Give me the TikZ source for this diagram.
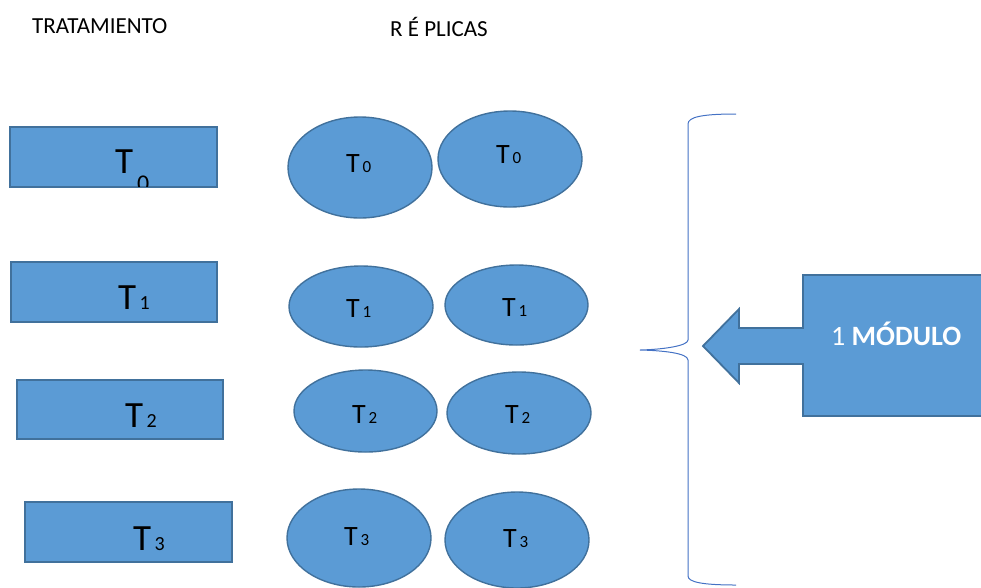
\documentclass[tikz,border=0pt]{standalone}
\usepackage{fontspec}
\setmainfont{Carlito}
\usetikzlibrary{shapes.geometric}

\definecolor{boxfill}{HTML}{5B9BD5}
\definecolor{boxline}{HTML}{41719C}
\definecolor{braceline}{HTML}{4472C4}

% big "T" followed by a smaller index digit
\newcommand{\tindex}[3]{{\fontsize{#1}{#1}\selectfont T}{\fontsize{#2}{#2}\selectfont\,#3}}

\tikzset{
  treatbox/.style={draw=boxline, fill=boxfill, line width=1.8pt, rectangle,
    inner sep=0pt, minimum width=#1},
  treatbox/.default=206pt,
  replica/.style={draw=boxline, fill=boxfill, line width=1.4pt, ellipse, inner sep=0pt},
  biglabel/.style={anchor=base west, inner sep=0pt, text=black},
  header/.style={anchor=base west, inner sep=0pt, font=\fontsize{23}{23}\selectfont},
}

\begin{document}
\begin{tikzpicture}[x=1pt, y=-1pt]
\useasboundingbox (0,0) rectangle (981,587);

% column headers
\node[header] (hTrat) at (32,33) {TRATAMIENTO};
\node[header] (hRep) at (390,36) {R É PLICAS};

% treatment boxes
\node[treatbox=207pt, minimum height=60pt] (R0) at (113.5,157) {};
\node[treatbox, minimum height=60pt] (R1) at (114,292) {};
\node[treatbox, minimum height=59pt] (R2) at (120,409.5) {};
\node[treatbox=207pt, minimum height=60pt] (R3) at (128.5,532) {};

% first box: index digit sits low and is cut off by the box edge
\begin{scope}
  \clip ([shift={(1.2pt,1.2pt)}]R0.south west) rectangle ([shift={(-1.2pt,-1.2pt)}]R0.north east);
  \node[biglabel] (lR0) at (115,173)
    {{\fontsize{37}{37}\selectfont T}{\fontsize{24}{24}\selectfont\,\raisebox{-18pt}{0}}};
\end{scope}
\node[biglabel] (lR1) at (118,309) {\tindex{37}{20}{1}};
\node[biglabel] (lR2) at (125,427) {\tindex{37}{20}{2}};
\node[biglabel] (lR3) at (133,550) {\tindex{37}{20}{3}};

% replicas
\node[replica, minimum width=144pt, minimum height=101pt] (E00) at (360,167.5) {};
\node[replica, minimum width=144pt, minimum height=96pt]  (E01) at (510,159) {};
\node[replica, minimum width=144pt, minimum height=81pt]  (E10) at (361,306.5) {};
\node[replica, minimum width=143pt, minimum height=80pt]  (E11) at (516.5,305) {};
\node[replica, minimum width=143pt, minimum height=82pt]  (E20) at (365.5,411) {};
\node[replica, minimum width=144pt, minimum height=82pt]  (E21) at (519,413) {};
\node[replica, minimum width=144pt, minimum height=98pt]  (E30) at (359,538) {};
\node[replica, minimum width=144pt, minimum height=96pt]  (E31) at (517,540) {};

\node[biglabel] (lE00) at (346,172) {\tindex{28}{17}{0}};
\node[biglabel] (lE01) at (496,163) {\tindex{28}{17}{0}};
\node[biglabel] (lE10) at (346,317) {\tindex{28}{17}{1}};
\node[biglabel] (lE11) at (502,316) {\tindex{28}{17}{1}};
\node[biglabel] (lE20) at (352,423) {\tindex{28}{17}{2}};
\node[biglabel] (lE21) at (505,423) {\tindex{28}{17}{2}};
\node[biglabel] (lE30) at (344,545) {\tindex{28}{17}{3}};
\node[biglabel] (lE31) at (503,547) {\tindex{28}{17}{3}};

% curly brace grouping the replicas
\draw[braceline, line width=1pt]
  (736,114) .. controls (702,114) and (688,117) .. (688,124)
  -- (688,340) .. controls (688,346) and (662,349.5) .. (640,350)
  .. controls (662,350.5) and (688,353) .. (688,360)
  -- (688,576) .. controls (688,582) and (702,585) .. (736,585);

% left-pointing callout arrow
\draw[draw=boxline, fill=boxfill, line width=1.8pt, line join=miter]
  (990,275) -- (803,275) -- (803,328) -- (739,328) -- (739,309) -- (703,346)
  -- (739,383) -- (739,364) -- (803,364) -- (803,416) -- (990,416);
\node[anchor=base west, inner sep=0pt, text=white, font=\fontsize{28}{28}\selectfont]
  (modulo) at (831,345) {1 \textbf{MÓDULO}};
\end{tikzpicture}
\end{document}
